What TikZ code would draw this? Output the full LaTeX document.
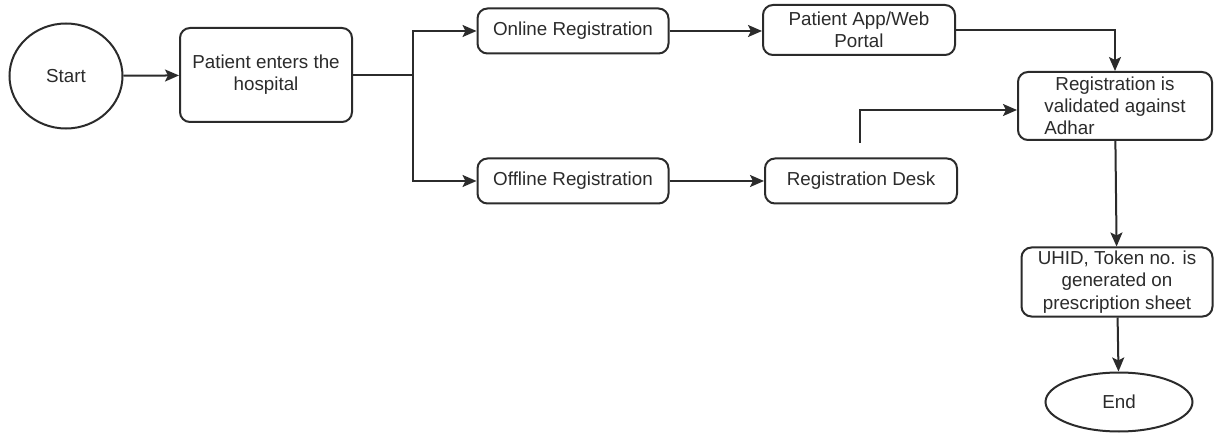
\documentclass[tikz,border=0pt]{standalone}
\usepackage{fontspec}
\setmainfont{Liberation Sans}
\usetikzlibrary{arrows.meta,shapes.geometric}
\definecolor{ink}{HTML}{2B2B2B}
\tikzset{
  box/.style={draw=ink, line width=1pt, rounded corners=5pt, fill=white,
    inner sep=0pt, align=center, font=\fontsize{9.4}{11.1}\selectfont, text=ink},
  oval/.style={draw=ink, line width=1pt, ellipse, fill=white, inner sep=0pt,
    font=\fontsize{9.4}{11.1}\selectfont, text=ink},
  link/.style={draw=ink, line width=1pt},
  arr/.style={link, -{Stealth[length=7pt,width=6pt,inset=1.5pt]}}
}
\begin{document}
\begin{tikzpicture}[x=0.5pt,y=-0.5pt]
  \useasboundingbox[fill=white] (0,0) rectangle (1217,433);

  % nodes
  \node[oval, minimum width=56.5pt, minimum height=52.5pt] (start) at (66,76) {Start};
  \node[box, minimum width=86pt, minimum height=47pt] (enter) at (266,75)
    {Patient enters the\\hospital};
  \node[box, minimum width=95.5pt, minimum height=22.5pt] (online) at (573,31)
    {Online Registration};
  \node[box, minimum width=95.5pt, minimum height=22.5pt] (offline) at (573,181)
    {Offline Registration};
  \node[box, minimum width=96pt, minimum height=25pt] (app) at (859,30)
    {Patient App/Web\\Portal};
  \node[box, minimum width=96pt, minimum height=22.5pt] (desk) at (861,181)
    {Registration Desk};
  \node[box, minimum width=97pt, minimum height=34pt] (valid) at (1115,106)
    {Registration is\\validated against\\\rlap{Adhar}\hphantom{validated against}};
  \node[box, minimum width=95.5pt, minimum height=34.5pt] (uhid) at (1117,282)
    {UHID, Token no. is\\generated on\\prescription sheet};
  \node[oval, minimum width=73.5pt, minimum height=29.5pt] (end) at (1119,402) {End};

  % junction points
  \coordinate (split) at (413,75);
  \coordinate (deskout) at (860,143);

  % connectors
  \draw[arr] (start) -- (enter);
  \draw[link] (enter.east) -- (split);
  \draw[arr] (split) |- (online.west);
  \draw[arr] (split) |- (offline.west);
  \draw[arr] (online) -- (online.east -| app.west);
  \draw[arr] (offline) -- (offline.east -| desk.west);
  \draw[arr] (app.east) -| (valid.north);
  \draw[arr] (deskout) |- ([yshift=-2pt]valid.west);
  \draw[arr] (valid) -- (uhid);
  \draw[arr] (uhid) -- (end);
\end{tikzpicture}
\end{document}
